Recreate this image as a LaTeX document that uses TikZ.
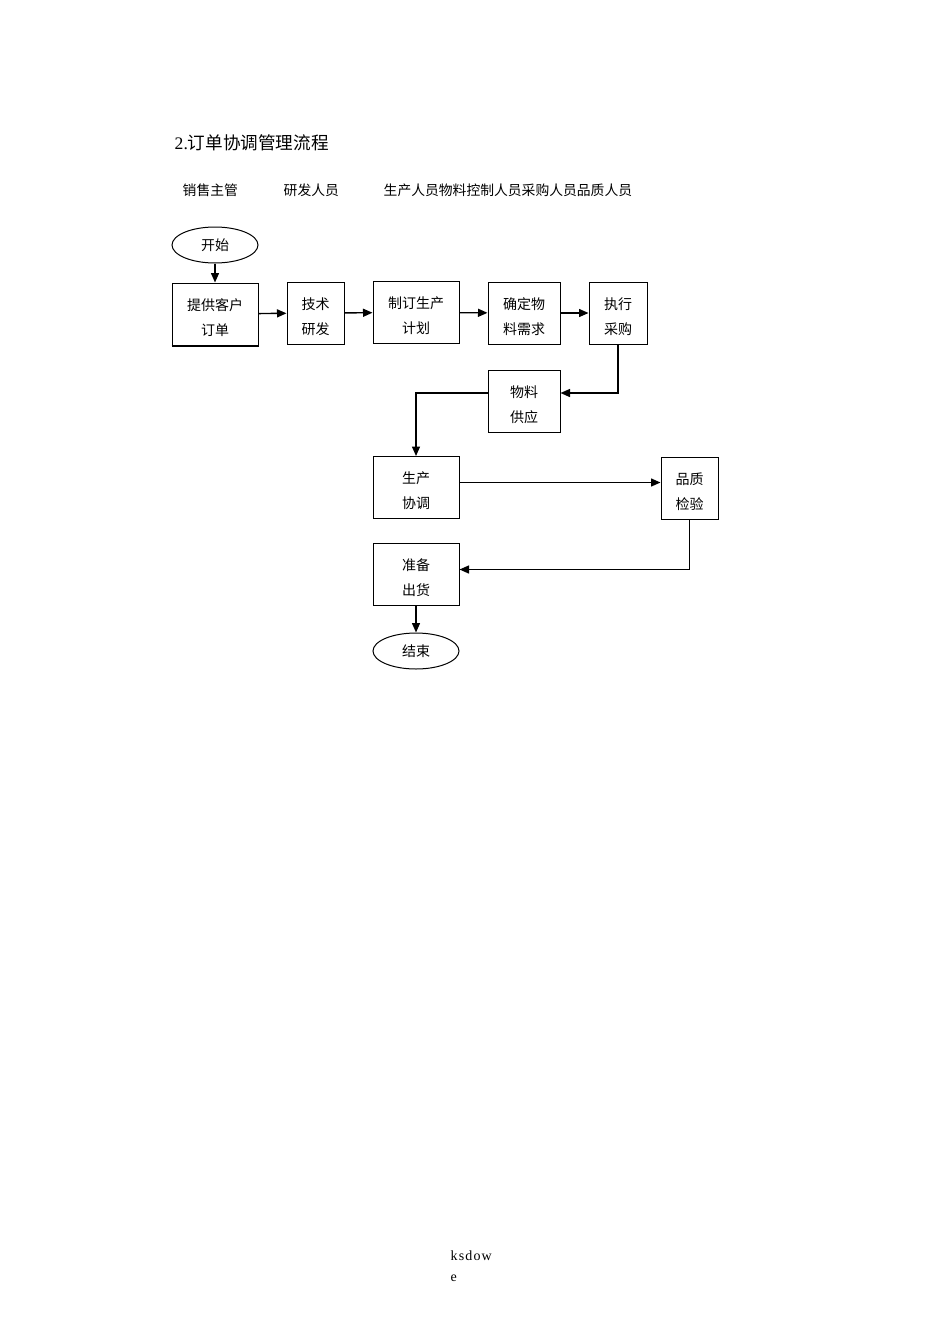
\documentclass[tikz,border=0pt]{standalone}
\usepackage{fontspec}
\setmainfont{Liberation Serif}
\newfontfamily\cjk{Noto Sans CJK SC}
\newfontfamily\foot[LetterSpace=8]{Liberation Serif}
\usetikzlibrary{shapes.geometric, arrows.meta}

% two-line box text, pushed a little down
\newcommand{\twolines}[2]{\rule{0pt}{19pt}#1\\#2}

\begin{document}
\begin{tikzpicture}[x=1pt, y=-1pt, ->, >={Triangle[length=9.5pt,width=8pt]}, line width=1.4pt,
    every node/.style={font=\cjk\fontsize{14}{25}\selectfont, inner sep=0pt},
    box/.style={draw, rectangle, line width=1pt, align=center, minimum height=62pt},
    term/.style={draw, ellipse, line width=1pt, minimum width=86pt, minimum height=36pt}]
        \useasboundingbox (0,0) rectangle (950,1344);

        % title and lanes
        \node[anchor=west, font=\cjk\fontsize{17.6}{20}\selectfont] (T) at (174,143) {{\rmfamily 2.}订单协调管理流程};
        \node[anchor=west, font=\cjk\fontsize{13.8}{16}\selectfont] (L1) at (182,190) {销售主管};
        \node[anchor=west, font=\cjk\fontsize{13.8}{16}\selectfont] (L2) at (283,190) {研发人员};
        \node[anchor=west, font=\cjk\fontsize{13.8}{16}\selectfont] (L3) at (383,190) {生产人员物料控制人员采购人员品质人员};

        \node[term] (A) at (215,245) {开始};
        \node[box, minimum width=86pt] (B) at (215,314) {\twolines{提供客户}{订单}};
        \node[box, minimum width=57pt] (C) at (315.5,313) {\twolines{技术}{研发}};
        \node[box, minimum width=86pt] (D) at (416,312.5) {\twolines{制订生产}{计划}};
        \node[box, minimum width=72pt] (E) at (524,313) {\twolines{确定物}{料需求}};
        \node[box, minimum width=58pt] (F) at (618,313) {\twolines{执行}{采购}};
        \node[box, minimum width=72pt] (G) at (524,401) {\twolines{物料}{供应}};
        \node[box, minimum width=86pt] (H) at (416,487.5) {\twolines{生产}{协调}};
        \node[box, minimum width=57pt] (I) at (689.5,488.5) {\twolines{品质}{检验}};
        \node[box, minimum width=86pt] (J) at (416,574.5) {\twolines{准备}{出货}};
        \node[term] (K) at (416,651) {结束};

        \draw[-, line width=2pt] (B.south west) -- (B.south east);

        \draw (A) -- (B);
        \draw (B) -- (C);
        \draw (C) -- (D);
        \draw (D) -- (E);
        \draw (E) -- (F);
        \draw (F.south) |- ([yshift=8pt]G.east);
        \draw ([yshift=8pt]G.west) -| (H.north);
        \draw ([yshift=5pt]H.east) -- ([yshift=5pt]H.east -| I.west);
        \draw (I.south) |- ([yshift=5pt]J.east);
        \draw (J) -- (K);

        \node[anchor=north west, align=left, font=\foot\fontsize{14}{21}\selectfont] (P) at (450,1250) {ksdow\\e};
    \end{tikzpicture}
\end{document}
